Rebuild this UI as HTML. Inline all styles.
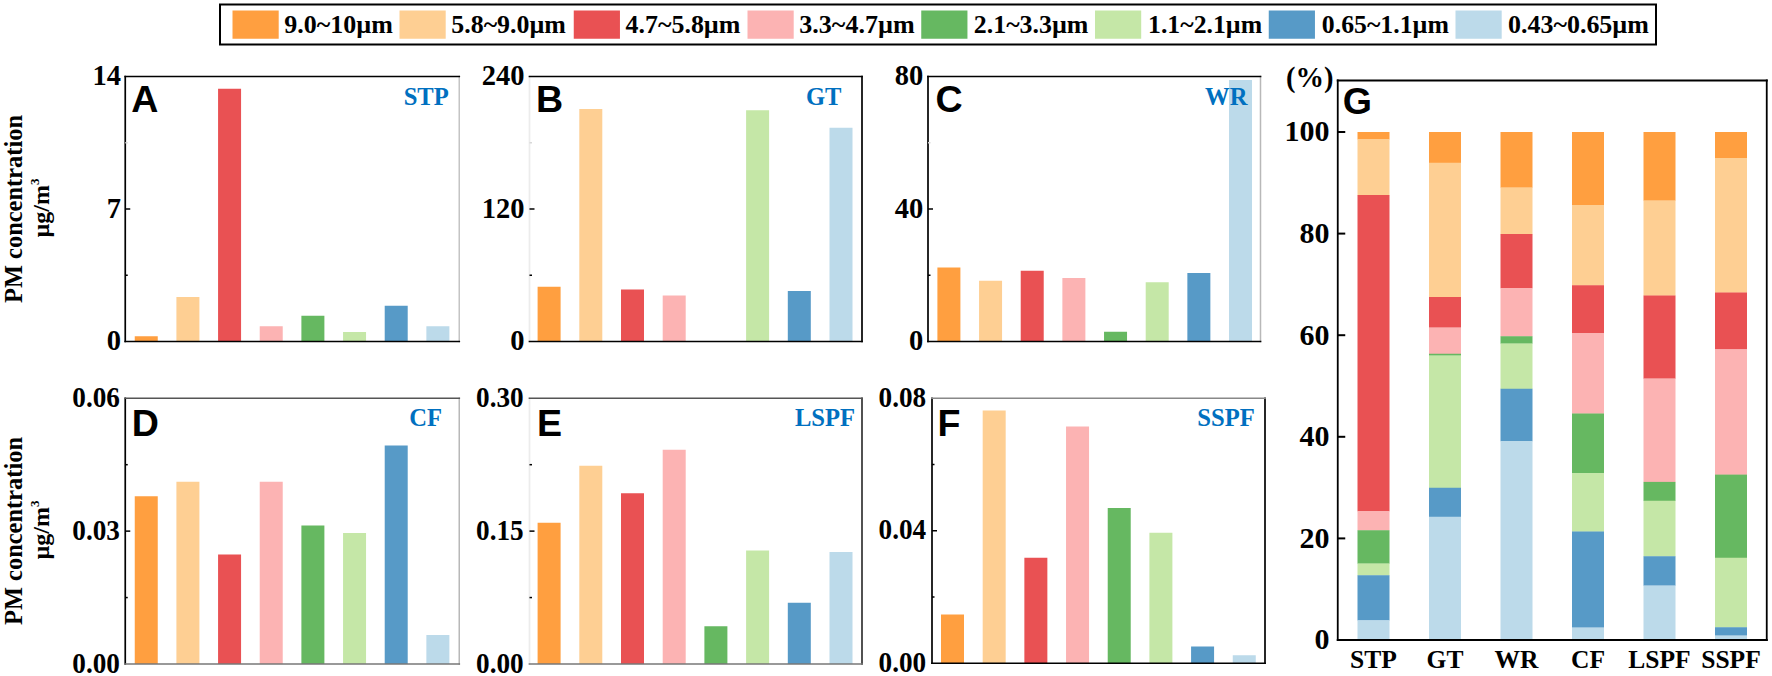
<!DOCTYPE html>
<html lang="en"><head><meta charset="utf-8"><title>PM concentration by particle size</title>
<style>
html,body{margin:0;padding:0;background:#fff;}
body{width:1772px;height:676px;overflow:hidden;}
svg{display:block;}
</style></head>
<body>
<svg width="1772" height="676" viewBox="0 0 1772 676">
<rect x="0" y="0" width="1772" height="676" fill="#fff"/>
<rect x="220" y="4.5" width="1436" height="40" fill="#fff" stroke="#000" stroke-width="2"/>
<rect x="232.50" y="10.50" width="46.20" height="28.25" fill="#FF9F40"/>
<text x="284.3" y="33" font-family='"Liberation Serif", "Times New Roman", serif' font-size="25.5" font-weight="bold" text-anchor="start" fill="#000" textLength="108.6" lengthAdjust="spacingAndGlyphs">9.0~10µm</text>
<rect x="399.50" y="10.50" width="46.20" height="28.25" fill="#FECF93"/>
<text x="451.3" y="33" font-family='"Liberation Serif", "Times New Roman", serif' font-size="25.5" font-weight="bold" text-anchor="start" fill="#000" textLength="114.6" lengthAdjust="spacingAndGlyphs">5.8~9.0µm</text>
<rect x="573.75" y="10.50" width="46.20" height="28.25" fill="#E95153"/>
<text x="625.55" y="33" font-family='"Liberation Serif", "Times New Roman", serif' font-size="25.5" font-weight="bold" text-anchor="start" fill="#000" textLength="114.85" lengthAdjust="spacingAndGlyphs">4.7~5.8µm</text>
<rect x="747.50" y="10.50" width="46.20" height="28.25" fill="#FCB3B3"/>
<text x="799.3" y="33" font-family='"Liberation Serif", "Times New Roman", serif' font-size="25.5" font-weight="bold" text-anchor="start" fill="#000" textLength="115.35" lengthAdjust="spacingAndGlyphs">3.3~4.7µm</text>
<rect x="921.25" y="10.50" width="46.20" height="28.25" fill="#66B861"/>
<text x="973.8" y="33" font-family='"Liberation Serif", "Times New Roman", serif' font-size="25.5" font-weight="bold" text-anchor="start" fill="#000" textLength="114.6" lengthAdjust="spacingAndGlyphs">2.1~3.3µm</text>
<rect x="1095.00" y="10.50" width="46.20" height="28.25" fill="#C5E7A7"/>
<text x="1148.05" y="33" font-family='"Liberation Serif", "Times New Roman", serif' font-size="25.5" font-weight="bold" text-anchor="start" fill="#000" textLength="114.1" lengthAdjust="spacingAndGlyphs">1.1~2.1µm</text>
<rect x="1268.75" y="10.50" width="46.20" height="28.25" fill="#579AC7"/>
<text x="1321.8" y="33" font-family='"Liberation Serif", "Times New Roman", serif' font-size="25.5" font-weight="bold" text-anchor="start" fill="#000" textLength="127.1" lengthAdjust="spacingAndGlyphs">0.65~1.1µm</text>
<rect x="1455.50" y="10.50" width="46.20" height="28.25" fill="#BCDAEA"/>
<text x="1508.05" y="33" font-family='"Liberation Serif", "Times New Roman", serif' font-size="25.5" font-weight="bold" text-anchor="start" fill="#000" textLength="140.85" lengthAdjust="spacingAndGlyphs">0.43~0.65µm</text>
<rect x="134.75" y="336.25" width="23.00" height="5.25" fill="#FF9F40"/>
<rect x="176.41" y="297.00" width="23.00" height="44.50" fill="#FECF93"/>
<rect x="218.07" y="88.75" width="23.00" height="252.75" fill="#E95153"/>
<rect x="259.73" y="326.25" width="23.00" height="15.25" fill="#FCB3B3"/>
<rect x="301.39" y="315.75" width="23.00" height="25.75" fill="#66B861"/>
<rect x="343.05" y="332.00" width="23.00" height="9.50" fill="#C5E7A7"/>
<rect x="384.71" y="305.75" width="23.00" height="35.75" fill="#579AC7"/>
<rect x="426.37" y="326.25" width="23.00" height="15.25" fill="#BCDAEA"/>
<line x1="459.25" y1="75.65" x2="459.25" y2="342.35" stroke="#c4c4c4" stroke-width="1.5"/>
<line x1="125.25" y1="75.65" x2="125.25" y2="342.35" stroke="#000" stroke-width="1.7"/>
<line x1="124.4" y1="76.5" x2="460.1" y2="76.5" stroke="#000" stroke-width="1.7"/>
<line x1="124.4" y1="341.5" x2="460.1" y2="341.5" stroke="#000" stroke-width="1.7"/>
<line x1="125.25" y1="142.75" x2="127.75" y2="142.75" stroke="#d8d8d8" stroke-width="1.5"/>
<line x1="125.25" y1="209.0" x2="130.25" y2="209.0" stroke="#000" stroke-width="1.5"/>
<line x1="125.25" y1="275.25" x2="127.75" y2="275.25" stroke="#000" stroke-width="1.5"/>
<text x="121" y="85.1" font-family='"Liberation Serif", "Times New Roman", serif' font-size="28.5" font-weight="bold" text-anchor="end" fill="#000">14</text>
<text x="121" y="217.6" font-family='"Liberation Serif", "Times New Roman", serif' font-size="28.5" font-weight="bold" text-anchor="end" fill="#000">7</text>
<text x="121" y="350.1" font-family='"Liberation Serif", "Times New Roman", serif' font-size="28.5" font-weight="bold" text-anchor="end" fill="#000">0</text>
<text x="131.25" y="111.6" font-family='"Liberation Sans", Arial, sans-serif' font-size="37.6" font-weight="bold" text-anchor="start" fill="#000">A</text>
<text x="426.2" y="104.5" font-family='"Liberation Serif", "Times New Roman", serif' font-size="24.6" font-weight="bold" text-anchor="middle" fill="#0070C0">STP</text>
<rect x="537.60" y="286.75" width="23.00" height="54.75" fill="#FF9F40"/>
<rect x="579.30" y="109.00" width="23.00" height="232.50" fill="#FECF93"/>
<rect x="621.00" y="289.50" width="23.00" height="52.00" fill="#E95153"/>
<rect x="662.70" y="295.50" width="23.00" height="46.00" fill="#FCB3B3"/>
<rect x="746.10" y="110.25" width="23.00" height="231.25" fill="#C5E7A7"/>
<rect x="787.80" y="291.00" width="23.00" height="50.50" fill="#579AC7"/>
<rect x="829.50" y="127.75" width="23.00" height="213.75" fill="#BCDAEA"/>
<line x1="862" y1="75.65" x2="862" y2="342.35" stroke="#000" stroke-width="1.7"/>
<line x1="529.5" y1="75.65" x2="529.5" y2="342.35" stroke="#ececec" stroke-width="1.7"/>
<line x1="528.65" y1="76.5" x2="862.85" y2="76.5" stroke="#000" stroke-width="1.7"/>
<line x1="528.65" y1="341.5" x2="862.85" y2="341.5" stroke="#000" stroke-width="1.7"/>
<line x1="529.5" y1="142.75" x2="532.0" y2="142.75" stroke="#d8d8d8" stroke-width="1.5"/>
<line x1="529.5" y1="209.0" x2="534.5" y2="209.0" stroke="#000" stroke-width="1.5"/>
<line x1="529.5" y1="275.25" x2="532.0" y2="275.25" stroke="#000" stroke-width="1.5"/>
<text x="524.5" y="85.1" font-family='"Liberation Serif", "Times New Roman", serif' font-size="28.5" font-weight="bold" text-anchor="end" fill="#000">240</text>
<text x="524.5" y="217.6" font-family='"Liberation Serif", "Times New Roman", serif' font-size="28.5" font-weight="bold" text-anchor="end" fill="#000">120</text>
<text x="524.5" y="350.1" font-family='"Liberation Serif", "Times New Roman", serif' font-size="28.5" font-weight="bold" text-anchor="end" fill="#000">0</text>
<text x="536.0" y="111.5" font-family='"Liberation Sans", Arial, sans-serif' font-size="37.6" font-weight="bold" text-anchor="start" fill="#000">B</text>
<text x="823.75" y="104.5" font-family='"Liberation Serif", "Times New Roman", serif' font-size="24.6" font-weight="bold" text-anchor="middle" fill="#0070C0">GT</text>
<rect x="937.40" y="267.50" width="23.00" height="74.00" fill="#FF9F40"/>
<rect x="979.06" y="280.75" width="23.00" height="60.75" fill="#FECF93"/>
<rect x="1020.72" y="270.75" width="23.00" height="70.75" fill="#E95153"/>
<rect x="1062.38" y="278.00" width="23.00" height="63.50" fill="#FCB3B3"/>
<rect x="1104.04" y="331.75" width="23.00" height="9.75" fill="#66B861"/>
<rect x="1145.70" y="282.25" width="23.00" height="59.25" fill="#C5E7A7"/>
<rect x="1187.36" y="273.00" width="23.00" height="68.50" fill="#579AC7"/>
<rect x="1229.02" y="80.00" width="23.00" height="261.50" fill="#BCDAEA"/>
<line x1="1260.5" y1="75.65" x2="1260.5" y2="342.35" stroke="#b8b8b8" stroke-width="1.5"/>
<line x1="928" y1="75.65" x2="928" y2="342.35" stroke="#000" stroke-width="1.7"/>
<line x1="927.15" y1="76.5" x2="1261.35" y2="76.5" stroke="#000" stroke-width="1.7"/>
<line x1="927.15" y1="341.5" x2="1261.35" y2="341.5" stroke="#000" stroke-width="1.7"/>
<line x1="928" y1="142.75" x2="930.5" y2="142.75" stroke="#d8d8d8" stroke-width="1.5"/>
<line x1="928" y1="209.0" x2="933" y2="209.0" stroke="#000" stroke-width="1.5"/>
<line x1="928" y1="275.25" x2="930.5" y2="275.25" stroke="#000" stroke-width="1.5"/>
<text x="923.25" y="85.1" font-family='"Liberation Serif", "Times New Roman", serif' font-size="28.5" font-weight="bold" text-anchor="end" fill="#000">80</text>
<text x="923.25" y="217.6" font-family='"Liberation Serif", "Times New Roman", serif' font-size="28.5" font-weight="bold" text-anchor="end" fill="#000">40</text>
<text x="923.25" y="350.1" font-family='"Liberation Serif", "Times New Roman", serif' font-size="28.5" font-weight="bold" text-anchor="end" fill="#000">0</text>
<text x="935.5" y="111.5" font-family='"Liberation Sans", Arial, sans-serif' font-size="37.6" font-weight="bold" text-anchor="start" fill="#000">C</text>
<text x="1226.25" y="104.5" font-family='"Liberation Serif", "Times New Roman", serif' font-size="24.6" font-weight="bold" text-anchor="middle" fill="#0070C0">WR</text>
<rect x="134.75" y="496.25" width="23.00" height="167.75" fill="#FF9F40"/>
<rect x="176.41" y="481.75" width="23.00" height="182.25" fill="#FECF93"/>
<rect x="218.07" y="554.50" width="23.00" height="109.50" fill="#E95153"/>
<rect x="259.73" y="481.75" width="23.00" height="182.25" fill="#FCB3B3"/>
<rect x="301.39" y="525.50" width="23.00" height="138.50" fill="#66B861"/>
<rect x="343.05" y="533.00" width="23.00" height="131.00" fill="#C5E7A7"/>
<rect x="384.71" y="445.50" width="23.00" height="218.50" fill="#579AC7"/>
<rect x="426.37" y="635.00" width="23.00" height="29.00" fill="#BCDAEA"/>
<line x1="459.25" y1="397.4" x2="459.25" y2="664.85" stroke="#b8b8b8" stroke-width="1.5"/>
<line x1="125.25" y1="397.4" x2="125.25" y2="664.85" stroke="#000" stroke-width="1.7"/>
<line x1="124.4" y1="398.25" x2="460.1" y2="398.25" stroke="#555" stroke-width="1.7"/>
<line x1="124.4" y1="664" x2="460.1" y2="664" stroke="#777" stroke-width="1.7"/>
<line x1="125.25" y1="464.6875" x2="127.75" y2="464.6875" stroke="#000" stroke-width="1.5"/>
<line x1="125.25" y1="531.125" x2="130.25" y2="531.125" stroke="#000" stroke-width="1.5"/>
<line x1="125.25" y1="597.5625" x2="127.75" y2="597.5625" stroke="#000" stroke-width="1.5"/>
<text x="119.95" y="406.85" font-family='"Liberation Serif", "Times New Roman", serif' font-size="28.5" font-weight="bold" text-anchor="end" fill="#000" textLength="47.6" lengthAdjust="spacingAndGlyphs">0.06</text>
<text x="119.95" y="539.725" font-family='"Liberation Serif", "Times New Roman", serif' font-size="28.5" font-weight="bold" text-anchor="end" fill="#000" textLength="47.6" lengthAdjust="spacingAndGlyphs">0.03</text>
<text x="119.95" y="672.6" font-family='"Liberation Serif", "Times New Roman", serif' font-size="28.5" font-weight="bold" text-anchor="end" fill="#000" textLength="47.6" lengthAdjust="spacingAndGlyphs">0.00</text>
<text x="131.75" y="435.85" font-family='"Liberation Sans", Arial, sans-serif' font-size="37.6" font-weight="bold" text-anchor="start" fill="#000">D</text>
<text x="425.6" y="426.25" font-family='"Liberation Serif", "Times New Roman", serif' font-size="24.6" font-weight="bold" text-anchor="middle" fill="#0070C0">CF</text>
<rect x="537.60" y="522.75" width="23.00" height="141.25" fill="#FF9F40"/>
<rect x="579.30" y="465.75" width="23.00" height="198.25" fill="#FECF93"/>
<rect x="621.00" y="493.25" width="23.00" height="170.75" fill="#E95153"/>
<rect x="662.70" y="449.75" width="23.00" height="214.25" fill="#FCB3B3"/>
<rect x="704.40" y="626.25" width="23.00" height="37.75" fill="#66B861"/>
<rect x="746.10" y="550.50" width="23.00" height="113.50" fill="#C5E7A7"/>
<rect x="787.80" y="602.75" width="23.00" height="61.25" fill="#579AC7"/>
<rect x="829.50" y="552.00" width="23.00" height="112.00" fill="#BCDAEA"/>
<line x1="862" y1="397.4" x2="862" y2="664.85" stroke="#333" stroke-width="1.7"/>
<line x1="529.5" y1="397.4" x2="529.5" y2="664.85" stroke="#ececec" stroke-width="1.7"/>
<line x1="528.65" y1="398.25" x2="862.85" y2="398.25" stroke="#555" stroke-width="1.7"/>
<line x1="528.65" y1="664" x2="862.85" y2="664" stroke="#777" stroke-width="1.7"/>
<line x1="529.5" y1="464.6875" x2="532.0" y2="464.6875" stroke="#000" stroke-width="1.5"/>
<line x1="529.5" y1="531.125" x2="534.5" y2="531.125" stroke="#000" stroke-width="1.5"/>
<line x1="529.5" y1="597.5625" x2="532.0" y2="597.5625" stroke="#000" stroke-width="1.5"/>
<text x="523.7" y="406.85" font-family='"Liberation Serif", "Times New Roman", serif' font-size="28.5" font-weight="bold" text-anchor="end" fill="#000" textLength="47.6" lengthAdjust="spacingAndGlyphs">0.30</text>
<text x="523.7" y="539.725" font-family='"Liberation Serif", "Times New Roman", serif' font-size="28.5" font-weight="bold" text-anchor="end" fill="#000" textLength="47.6" lengthAdjust="spacingAndGlyphs">0.15</text>
<text x="523.7" y="672.6" font-family='"Liberation Serif", "Times New Roman", serif' font-size="28.5" font-weight="bold" text-anchor="end" fill="#000" textLength="47.6" lengthAdjust="spacingAndGlyphs">0.00</text>
<text x="537.0" y="435.75" font-family='"Liberation Sans", Arial, sans-serif' font-size="37.6" font-weight="bold" text-anchor="start" fill="#000">E</text>
<text x="825" y="426.25" font-family='"Liberation Serif", "Times New Roman", serif' font-size="24.6" font-weight="bold" text-anchor="middle" fill="#0070C0">LSPF</text>
<rect x="941.00" y="614.50" width="23.00" height="48.75" fill="#FF9F40"/>
<rect x="982.68" y="410.50" width="23.00" height="252.75" fill="#FECF93"/>
<rect x="1024.36" y="557.75" width="23.00" height="105.50" fill="#E95153"/>
<rect x="1066.04" y="426.50" width="23.00" height="236.75" fill="#FCB3B3"/>
<rect x="1107.72" y="508.00" width="23.00" height="155.25" fill="#66B861"/>
<rect x="1149.40" y="532.75" width="23.00" height="130.50" fill="#C5E7A7"/>
<rect x="1191.08" y="646.50" width="23.00" height="16.75" fill="#579AC7"/>
<rect x="1232.76" y="655.25" width="23.00" height="8.00" fill="#BCDAEA"/>
<line x1="1265" y1="397.4" x2="1265" y2="664.1" stroke="#000" stroke-width="1.7"/>
<line x1="932" y1="397.4" x2="932" y2="664.1" stroke="#000" stroke-width="1.7"/>
<line x1="931.15" y1="398.25" x2="1265.85" y2="398.25" stroke="#888" stroke-width="1.7"/>
<line x1="931.15" y1="663.25" x2="1265.85" y2="663.25" stroke="#000" stroke-width="1.7"/>
<line x1="932" y1="464.5" x2="934.5" y2="464.5" stroke="#000" stroke-width="1.5"/>
<line x1="932" y1="530.75" x2="937" y2="530.75" stroke="#000" stroke-width="1.5"/>
<line x1="932" y1="597.0" x2="934.5" y2="597.0" stroke="#000" stroke-width="1.5"/>
<text x="926.2" y="406.85" font-family='"Liberation Serif", "Times New Roman", serif' font-size="28.5" font-weight="bold" text-anchor="end" fill="#000" textLength="47.6" lengthAdjust="spacingAndGlyphs">0.08</text>
<text x="926.2" y="539.35" font-family='"Liberation Serif", "Times New Roman", serif' font-size="28.5" font-weight="bold" text-anchor="end" fill="#000" textLength="47.6" lengthAdjust="spacingAndGlyphs">0.04</text>
<text x="926.2" y="671.85" font-family='"Liberation Serif", "Times New Roman", serif' font-size="28.5" font-weight="bold" text-anchor="end" fill="#000" textLength="47.6" lengthAdjust="spacingAndGlyphs">0.00</text>
<text x="937.5" y="435.75" font-family='"Liberation Sans", Arial, sans-serif' font-size="37.6" font-weight="bold" text-anchor="start" fill="#000">F</text>
<text x="1226" y="426.25" font-family='"Liberation Serif", "Times New Roman", serif' font-size="24.6" font-weight="bold" text-anchor="middle" fill="#0070C0">SSPF</text>
<text transform="translate(22.2,209) rotate(-90)" font-family='"Liberation Serif", "Times New Roman", serif' font-size="24.5" font-weight="bold" text-anchor="middle" textLength="188" lengthAdjust="spacingAndGlyphs">PM concentration</text>
<text transform="translate(48.8,208) rotate(-90)" font-family='"Liberation Serif", "Times New Roman", serif' font-size="24" font-weight="bold" text-anchor="middle">µg/m<tspan font-size="13" dy="-9.5">3</tspan></text>
<text transform="translate(22.2,531) rotate(-90)" font-family='"Liberation Serif", "Times New Roman", serif' font-size="24.5" font-weight="bold" text-anchor="middle" textLength="188" lengthAdjust="spacingAndGlyphs">PM concentration</text>
<text transform="translate(48.8,530) rotate(-90)" font-family='"Liberation Serif", "Times New Roman", serif' font-size="24" font-weight="bold" text-anchor="middle">µg/m<tspan font-size="13" dy="-9.5">3</tspan></text>
<rect x="1357.50" y="132.00" width="32.00" height="7.55" fill="#FF9F40"/>
<rect x="1357.50" y="139.25" width="32.00" height="56.05" fill="#FECF93"/>
<rect x="1357.50" y="195.00" width="32.00" height="316.30" fill="#E95153"/>
<rect x="1357.50" y="511.00" width="32.00" height="19.55" fill="#FCB3B3"/>
<rect x="1357.50" y="530.25" width="32.00" height="33.55" fill="#66B861"/>
<rect x="1357.50" y="563.50" width="32.00" height="12.05" fill="#C5E7A7"/>
<rect x="1357.50" y="575.25" width="32.00" height="45.30" fill="#579AC7"/>
<rect x="1357.50" y="620.25" width="32.00" height="19.75" fill="#BCDAEA"/>
<rect x="1429.00" y="132.00" width="32.00" height="31.05" fill="#FF9F40"/>
<rect x="1429.00" y="162.75" width="32.00" height="134.55" fill="#FECF93"/>
<rect x="1429.00" y="297.00" width="32.00" height="30.80" fill="#E95153"/>
<rect x="1429.00" y="327.50" width="32.00" height="26.55" fill="#FCB3B3"/>
<rect x="1429.00" y="353.75" width="32.00" height="2.05" fill="#66B861"/>
<rect x="1429.00" y="355.50" width="32.00" height="132.55" fill="#C5E7A7"/>
<rect x="1429.00" y="487.75" width="32.00" height="29.30" fill="#579AC7"/>
<rect x="1429.00" y="516.75" width="32.00" height="123.25" fill="#BCDAEA"/>
<rect x="1500.50" y="132.00" width="32.00" height="55.80" fill="#FF9F40"/>
<rect x="1500.50" y="187.50" width="32.00" height="46.80" fill="#FECF93"/>
<rect x="1500.50" y="234.00" width="32.00" height="54.30" fill="#E95153"/>
<rect x="1500.50" y="288.00" width="32.00" height="48.55" fill="#FCB3B3"/>
<rect x="1500.50" y="336.25" width="32.00" height="7.55" fill="#66B861"/>
<rect x="1500.50" y="343.50" width="32.00" height="45.55" fill="#C5E7A7"/>
<rect x="1500.50" y="388.75" width="32.00" height="52.55" fill="#579AC7"/>
<rect x="1500.50" y="441.00" width="32.00" height="199.00" fill="#BCDAEA"/>
<rect x="1572.00" y="132.00" width="32.00" height="73.30" fill="#FF9F40"/>
<rect x="1572.00" y="205.00" width="32.00" height="80.55" fill="#FECF93"/>
<rect x="1572.00" y="285.25" width="32.00" height="48.15" fill="#E95153"/>
<rect x="1572.00" y="333.10" width="32.00" height="80.70" fill="#FCB3B3"/>
<rect x="1572.00" y="413.50" width="32.00" height="59.90" fill="#66B861"/>
<rect x="1572.00" y="473.10" width="32.00" height="58.70" fill="#C5E7A7"/>
<rect x="1572.00" y="531.50" width="32.00" height="96.30" fill="#579AC7"/>
<rect x="1572.00" y="627.50" width="32.00" height="12.50" fill="#BCDAEA"/>
<rect x="1643.50" y="132.00" width="32.00" height="68.80" fill="#FF9F40"/>
<rect x="1643.50" y="200.50" width="32.00" height="95.30" fill="#FECF93"/>
<rect x="1643.50" y="295.50" width="32.00" height="83.30" fill="#E95153"/>
<rect x="1643.50" y="378.50" width="32.00" height="103.70" fill="#FCB3B3"/>
<rect x="1643.50" y="481.90" width="32.00" height="19.15" fill="#66B861"/>
<rect x="1643.50" y="500.75" width="32.00" height="55.80" fill="#C5E7A7"/>
<rect x="1643.50" y="556.25" width="32.00" height="29.55" fill="#579AC7"/>
<rect x="1643.50" y="585.50" width="32.00" height="54.50" fill="#BCDAEA"/>
<rect x="1715.00" y="132.00" width="32.00" height="26.30" fill="#FF9F40"/>
<rect x="1715.00" y="158.00" width="32.00" height="134.80" fill="#FECF93"/>
<rect x="1715.00" y="292.50" width="32.00" height="57.05" fill="#E95153"/>
<rect x="1715.00" y="349.25" width="32.00" height="125.65" fill="#FCB3B3"/>
<rect x="1715.00" y="474.60" width="32.00" height="83.45" fill="#66B861"/>
<rect x="1715.00" y="557.75" width="32.00" height="69.80" fill="#C5E7A7"/>
<rect x="1715.00" y="627.25" width="32.00" height="8.55" fill="#579AC7"/>
<rect x="1715.00" y="635.50" width="32.00" height="4.50" fill="#BCDAEA"/>
<line x1="1337.75" y1="79.5" x2="1337.75" y2="641" stroke="#000" stroke-width="1.8"/>
<line x1="1766.75" y1="79.5" x2="1766.75" y2="641" stroke="#000" stroke-width="1.8"/>
<line x1="1336.75" y1="80.5" x2="1767.75" y2="80.5" stroke="#000" stroke-width="1.8"/>
<line x1="1336.75" y1="640" x2="1767.75" y2="640" stroke="#000" stroke-width="1.8"/>
<line x1="1337.75" y1="132.0" x2="1345.25" y2="132.0" stroke="#000" stroke-width="2"/>
<text x="1329.6" y="141.3" font-family='"Liberation Serif", "Times New Roman", serif' font-size="30" font-weight="bold" text-anchor="end" fill="#000">100</text>
<line x1="1337.75" y1="233.6" x2="1345.25" y2="233.6" stroke="#000" stroke-width="2"/>
<text x="1329.6" y="242.9" font-family='"Liberation Serif", "Times New Roman", serif' font-size="30" font-weight="bold" text-anchor="end" fill="#000">80</text>
<line x1="1337.75" y1="335.2" x2="1345.25" y2="335.2" stroke="#000" stroke-width="2"/>
<text x="1329.6" y="344.5" font-family='"Liberation Serif", "Times New Roman", serif' font-size="30" font-weight="bold" text-anchor="end" fill="#000">60</text>
<line x1="1337.75" y1="436.8" x2="1345.25" y2="436.8" stroke="#000" stroke-width="2"/>
<text x="1329.6" y="446.1" font-family='"Liberation Serif", "Times New Roman", serif' font-size="30" font-weight="bold" text-anchor="end" fill="#000">40</text>
<line x1="1337.75" y1="538.4" x2="1345.25" y2="538.4" stroke="#000" stroke-width="2"/>
<text x="1329.6" y="547.6999999999999" font-family='"Liberation Serif", "Times New Roman", serif' font-size="30" font-weight="bold" text-anchor="end" fill="#000">20</text>
<text x="1329.6" y="649.3" font-family='"Liberation Serif", "Times New Roman", serif' font-size="30" font-weight="bold" text-anchor="end" fill="#000">0</text>
<text x="1286" y="86.5" font-family='"Liberation Serif", "Times New Roman", serif' font-size="28.5" font-weight="bold" text-anchor="start" fill="#000">(%)</text>
<text x="1342.75" y="114" font-family='"Liberation Sans", Arial, sans-serif' font-size="37.6" font-weight="bold" text-anchor="start" fill="#000">G</text>
<text x="1373.5" y="668" font-family='"Liberation Serif", "Times New Roman", serif' font-size="25.5" font-weight="bold" text-anchor="middle" fill="#000">STP</text>
<text x="1445" y="668" font-family='"Liberation Serif", "Times New Roman", serif' font-size="25.5" font-weight="bold" text-anchor="middle" fill="#000">GT</text>
<text x="1516.5" y="668" font-family='"Liberation Serif", "Times New Roman", serif' font-size="25.5" font-weight="bold" text-anchor="middle" fill="#000">WR</text>
<text x="1588" y="668" font-family='"Liberation Serif", "Times New Roman", serif' font-size="25.5" font-weight="bold" text-anchor="middle" fill="#000">CF</text>
<text x="1659.5" y="668" font-family='"Liberation Serif", "Times New Roman", serif' font-size="25.5" font-weight="bold" text-anchor="middle" fill="#000">LSPF</text>
<text x="1731" y="668" font-family='"Liberation Serif", "Times New Roman", serif' font-size="25.5" font-weight="bold" text-anchor="middle" fill="#000">SSPF</text>
</svg>
</body></html>
